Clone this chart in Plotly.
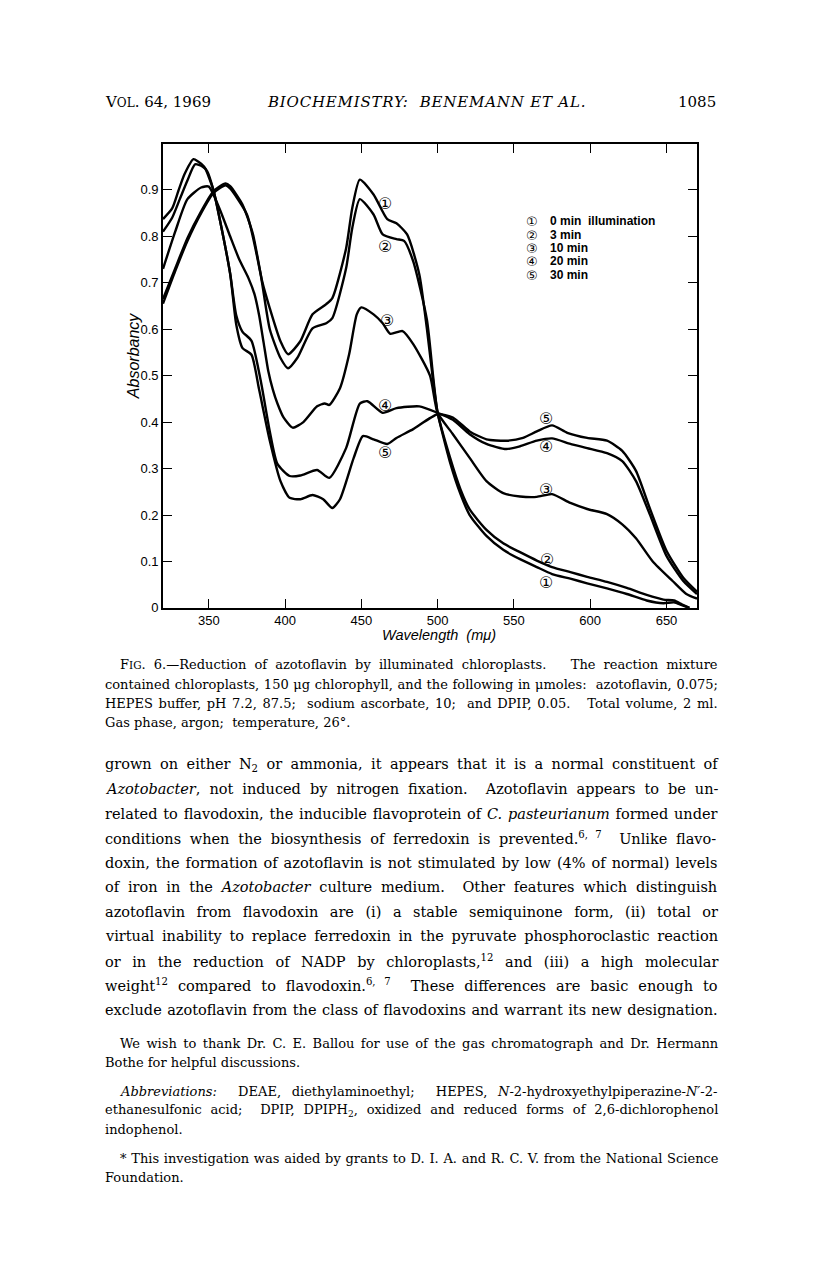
import plotly.graph_objects as go

# the page puts the figure 8 px in from the top-left corner
OFF = 8
W, H = 816 - 2 * OFF, 1265 - 2 * OFF

# ---- spectra (wavelength in mu, absorbancy) ----
wl_0min = [320, 328, 336, 345, 353, 361, 364, 372, 379, 385, 390, 397, 402, 410, 418, 427, 431, 440, 444, 449,
           458, 467, 473, 480, 488, 493, 497, 500, 508, 515, 521, 532, 543, 554, 565, 575, 587, 598, 611, 624,
           637, 648, 655, 660, 665]
abs_0min = [0.665, 0.731, 0.796, 0.854, 0.897, 0.914, 0.908, 0.869, 0.804, 0.703, 0.645, 0.574, 0.546, 0.574,
            0.632, 0.654, 0.667, 0.774, 0.860, 0.922, 0.890, 0.837, 0.828, 0.804, 0.718, 0.60, 0.49, 0.42, 0.315,
            0.245, 0.200, 0.155, 0.125, 0.105, 0.088, 0.073, 0.063, 0.053, 0.042, 0.030, 0.016, 0.010, 0.012,
            0.006, 0.0]

wl_3min = [320, 328, 336, 345, 353, 361, 364, 375, 384, 390, 397, 402, 408, 418, 427, 431, 440, 444, 449, 458,
           464, 473, 478, 484, 493, 497, 500, 508, 515, 521, 532, 543, 554, 565, 575, 587, 598, 611, 624, 637,
           648, 655, 660, 665]
abs_3min = [0.655, 0.725, 0.790, 0.850, 0.893, 0.910, 0.903, 0.847, 0.718, 0.600, 0.538, 0.516, 0.538, 0.602,
            0.613, 0.624, 0.731, 0.817, 0.880, 0.847, 0.804, 0.794, 0.790, 0.746, 0.620, 0.50, 0.42, 0.325, 0.255,
            0.212, 0.168, 0.139, 0.120, 0.102, 0.088, 0.077, 0.067, 0.056, 0.043, 0.028, 0.018, 0.016, 0.008, 0.0]

wl_10min = [320, 328, 336, 345, 350, 357, 364, 370, 376, 380, 383, 386, 389, 392, 395, 399, 405, 412, 421, 426,
            429, 436, 442, 447, 450, 458, 464, 469, 477, 484, 495, 500, 510, 521, 532, 543, 554, 565, 575, 587,
            598, 611, 621, 630, 641, 654, 663, 670]
abs_10min = [0.730, 0.810, 0.880, 0.905, 0.907, 0.860, 0.800, 0.750, 0.710, 0.675, 0.630, 0.570, 0.510, 0.470,
             0.440, 0.410, 0.388, 0.400, 0.434, 0.440, 0.437, 0.473, 0.546, 0.632, 0.647, 0.632, 0.613, 0.590,
             0.596, 0.568, 0.500, 0.420, 0.374, 0.323, 0.273, 0.247, 0.240, 0.239, 0.245, 0.226, 0.213, 0.202,
             0.180, 0.150, 0.100, 0.058, 0.030, 0.020]

wl_20min = [320, 326, 331, 336, 341, 346, 349, 353, 357, 364, 368, 372, 378, 384, 390, 395, 403, 410, 421, 429,
            440, 449, 454, 464, 473, 488, 500, 510, 521, 532, 545, 554, 565, 575, 587, 598, 611, 621, 630, 639,
            650, 661, 670]
abs_20min = [0.810, 0.840, 0.880, 0.920, 0.955, 0.950, 0.940, 0.900, 0.840, 0.720, 0.630, 0.595, 0.575, 0.490,
             0.380, 0.310, 0.284, 0.285, 0.297, 0.280, 0.344, 0.440, 0.445, 0.420, 0.430, 0.434, 0.420, 0.405,
             0.374, 0.353, 0.342, 0.348, 0.360, 0.365, 0.353, 0.344, 0.333, 0.316, 0.273, 0.202, 0.112, 0.058,
             0.030]

wl_30min = [320, 326, 330, 334, 340, 343, 347, 353, 357, 364, 368, 372, 378, 383, 390, 397, 403, 410, 418, 425,
            431, 436, 445, 451, 458, 467, 473, 484, 500, 510, 521, 532, 545, 556, 565, 575, 585, 598, 611, 621,
            630, 639, 650, 661, 670]
abs_30min = [0.837, 0.860, 0.897, 0.933, 0.966, 0.961, 0.950, 0.900, 0.840, 0.720, 0.610, 0.560, 0.545, 0.470,
             0.360, 0.273, 0.237, 0.234, 0.243, 0.234, 0.215, 0.234, 0.323, 0.370, 0.363, 0.353, 0.366, 0.385,
             0.417, 0.410, 0.380, 0.363, 0.360, 0.366, 0.380, 0.393, 0.377, 0.366, 0.360, 0.338, 0.295, 0.215,
             0.123, 0.065, 0.035]

legend_marks = ["\u2460", "\u2461", "\u2462", "\u2463", "\u2464"]
legend_texts = ["0 min  illumination", "3 min", "10 min", "20 min", "30 min"]
x_ticks = [350, 400, 450, 500, 550, 600, 650]
y_ticks = [0, 0.1, 0.2, 0.3, 0.4, 0.5, 0.6, 0.7, 0.8, 0.9]
y_ticktext = ["0", "0.1", "0.2", "0.3", "0.4", "0.5", "0.6", "0.7", "0.8", "0.9"]

series = [(wl_0min, abs_0min), (wl_3min, abs_3min), (wl_10min, abs_10min),
          (wl_20min, abs_20min), (wl_30min, abs_30min)]


def px(x):
    return (x - OFF) / W


def py(y):
    # small empirical correction so page pixels land where the scan has them
    return 1 - (y * 1.0056 + 1.4 - OFF) / H


SERIF = "DejaVu Serif"
SANS = "Liberation Sans, Arial, sans-serif"

fig = go.Figure()
for wl, ab in series:
    fig.add_trace(go.Scatter(x=wl, y=ab, mode="lines", showlegend=False,
                             line=dict(color="black", width=2.4, shape="spline", smoothing=0.6)))

# plot frame: left 163, right 697, top 143, bottom 607 (page pixels)
axis_common = dict(showline=True, linecolor="black", linewidth=1.6, mirror="ticks",
                   ticks="inside", ticklen=9, tickwidth=1.4, tickcolor="black",
                   showgrid=False, zeroline=False,
                   tickfont=dict(family=SANS, size=13, color="black"))
fig.update_xaxes(range=[320, 670], domain=[px(163), px(697)], tickvals=x_ticks, **axis_common)
fig.update_yaxes(range=[0, 0.998], domain=[py(607), py(143)], tickvals=y_ticks,
                 ticktext=y_ticktext, **axis_common)

ann = []


def text(x, y, s, size, family=SERIF, anchor="left", ws=0, **kw):
    if ws:
        s = "<span style='word-spacing:%.2fpx'>%s</span>" % (ws, s)
    ann.append(dict(x=px(x), y=py(y), xref="paper", yref="paper", text=s, showarrow=False,
                    xanchor=anchor, yanchor="middle",
                    font=dict(family=family, size=size, color="black"), **kw))


# axis titles
text(133, 355, "<i>Absorbancy</i>", 16, family=SANS, anchor="center", textangle=-90)
text(439, 634, "<i>Wavelength  (m\u03bc)</i>", 14.5, family=SANS, anchor="center")

# legend block
for i, (m, t) in enumerate(zip(legend_marks, legend_texts)):
    yy = [220, 234, 247, 260, 274][i]
    text(532, yy, m, 13, family="DejaVu Sans", anchor="center")
    text(548, yy, "<b>" + t + "</b>", 12, family=SANS)

# curve labels (data coordinates)
curve_tags = [("\u2460", 465.5, 0.871), ("\u2461", 465.5, 0.779), ("\u2462", 466.5, 0.618),
              ("\u2463", 465.5, 0.435), ("\u2464", 465.5, 0.334),
              ("\u2464", 571, 0.408), ("\u2463", 571, 0.348), ("\u2462", 571, 0.256),
              ("\u2461", 572, 0.105), ("\u2460", 571, 0.054)]
for m, xx, yy in curve_tags:
    ann.append(dict(x=xx, y=yy, xref="x", yref="y", text=m, showarrow=False,
                    font=dict(family="DejaVu Sans", size=16, color="black")))

# running head
hs = "letter-spacing:0.8px"
text(103, 101, "V<span style='font-size:12px'>OL</span>. 64, 1969", 15)
text(426, 101, "<span style='%s'><i>BIOCHEMISTRY:  BENEMANN ET AL.</i></span>" % hs, 15, anchor="center")
text(718, 101, "1085", 15, anchor="right")

# caption
caption = [
    (118, 664, 4.0, "F<span style='font-size:10.5px'>IG</span>. 6.\u2014Reduction of azotoflavin by illuminated chloroplasts.   The reaction mixture"),
    (103, 684, 0.5, "contained chloroplasts, 150 \u03bcg chlorophyll, and the following in \u03bcmoles:  azotoflavin, 0.075;"),
    (103, 703, 1.5, "HEPES buffer, pH 7.2, 87.5;  sodium ascorbate, 10;  and DPIP, 0.05.   Total volume, 2 ml."),
    (103, 722, 0, "Gas phase, argon;  temperature, 26\u00b0."),
]
for x, y, ws, s in caption:
    text(x, y, s, 13, ws=ws)

body = [
    "grown on either N<sub>2</sub> or ammonia, it appears that it is a normal constituent of",
    "<i>Azotobacter</i>, not induced by nitrogen fixation.  Azotoflavin appears to be un-",
    "related to flavodoxin, the inducible flavoprotein of <i>C. pasteurianum</i> formed under",
    "conditions when the biosynthesis of ferredoxin is prevented.<sup>6, 7</sup>  Unlike flavo-",
    "doxin, the formation of azotoflavin is not stimulated by low (4% of normal) levels",
    "of iron in the <i>Azotobacter</i> culture medium.  Other features which distinguish",
    "azotoflavin from flavodoxin are (i) a stable semiquinone form, (ii) total or",
    "virtual inability to replace ferredoxin in the pyruvate phosphoroclastic reaction",
    "or in the reduction of NADP by chloroplasts,<sup>12</sup> and (iii) a high molecular",
    "weight<sup>12</sup> compared to flavodoxin.<sup>6, 7</sup>  These differences are basic enough to",
    "exclude azotoflavin from the class of flavodoxins and warrant its new designation.",
]
body_ws = [3.8, 4.4, 1.2, 4.1, 1.4, 4.2, 6.9, 3.1, 6.95, 5.4, 0.8]
for i, s in enumerate(body):
    text(103, 764 + i * 24.5, s, 14.5, ws=body_ws[i])

notes = [
    (118, 1043, 2.3, "We wish to thank Dr. C. E. Ballou for use of the gas chromatograph and Dr. Hermann"),
    (103, 1062, 0, "Bothe for helpful discussions."),
    (118, 1091, 6.5, "<i>Abbreviations:</i>  DEAE, diethylaminoethyl;  HEPES, <i>N</i>-2-hydroxyethylpiperazine-<i>N\u2032</i>-2-"),
    (103, 1110, 4.7, "ethanesulfonic acid;  DPIP, DPIPH<sub>2</sub>, oxidized and reduced forms of 2,6-dichlorophenol"),
    (103, 1129, 0, "indophenol."),
    (118, 1158, 0.6, "* This investigation was aided by grants to D. I. A. and R. C. V. from the National Science"),
    (103, 1177, 0, "Foundation."),
]
for x, y, ws, s in notes:
    text(x, y, s, 13, ws=ws)

fig.update_layout(
    width=W, height=H, autosize=False,
    margin=dict(l=0, r=0, t=0, b=0),
    paper_bgcolor="white", plot_bgcolor="white",
    annotations=ann,
)

fig.write_html("out.html")
